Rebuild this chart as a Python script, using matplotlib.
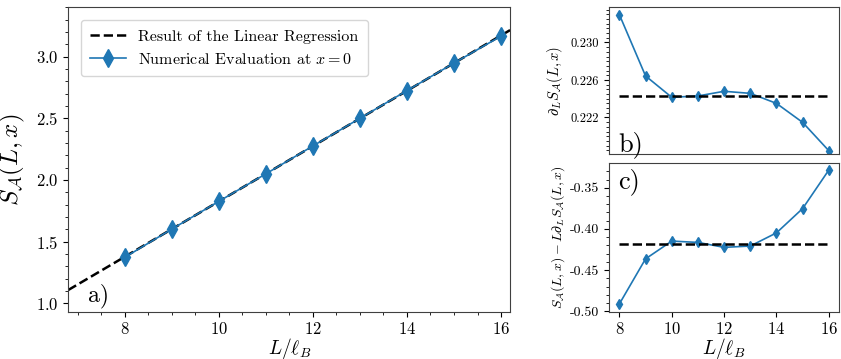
import matplotlib
matplotlib.use('Agg')
import matplotlib.pyplot as plt
import numpy as np
from matplotlib.ticker import MultipleLocator, AutoMinorLocator

plt.rcParams['font.family'] = 'serif'
plt.rcParams['font.serif'] = ['cmr10']
plt.rcParams['mathtext.fontset'] = 'cm'
plt.rcParams['axes.unicode_minus'] = False
plt.rcParams['axes.formatter.use_mathtext'] = True

# data
L = [8, 9, 10, 11, 12, 13, 14, 15, 16]
S_num = [1.372, 1.601, 1.826, 2.049, 2.275, 2.499, 2.724, 2.947, 3.166]
dS = [0.23297, 0.22643, 0.22415, 0.22429, 0.22479, 0.22457, 0.2235, 0.22147, 0.21845]
S_minus_LdS = [-0.4912, -0.4364, -0.4148, -0.4164, -0.4224, -0.4208, -0.4048, -0.3752, -0.3284]
slope = 0.22432
intercept = -0.418
L_fit = [6.8, 16.2]

blue = '#1f77b4'
spine_col = '0.25'

fig = plt.figure(figsize=(8.41, 3.59), dpi=100)
ax_a = fig.add_axes([0.081, 0.132, 0.526, 0.848])
ax_b = fig.add_axes([0.724, 0.571, 0.274, 0.41])
ax_c = fig.add_axes([0.724, 0.132, 0.274, 0.413], sharex=ax_b)

# panel a
fit_y = [slope * l + intercept for l in L_fit]
ax_a.plot(L_fit, fit_y, '--', color='black', lw=1.8, label='Result of the Linear Regression')
ax_a.plot(L, S_num, marker='d', color=blue, lw=1.2, ms=9, label='Numerical Evaluation at $x=0$')
ax_a.set_xlim(6.8, 16.2)
ax_a.set_ylim(0.933, 3.4)
ax_a.xaxis.set_major_locator(MultipleLocator(2))
ax_a.xaxis.set_minor_locator(MultipleLocator(0.5))
ax_a.yaxis.set_major_locator(MultipleLocator(0.5))
ax_a.yaxis.set_minor_locator(MultipleLocator(0.1))
ax_a.set_xlabel(r'$L/\ell_B$', fontsize=14, labelpad=-1)
ax_a.set_ylabel(r'$S_{\mathcal{A}}(L,x)$', fontsize=18, labelpad=6)
ax_a.tick_params(labelsize=12)
ax_a.legend(loc='upper left', fontsize=11.5, handlelength=2.2, borderpad=0.6,
            borderaxespad=0.8)
ax_a.text(0.045, 0.035, 'a)', transform=ax_a.transAxes, fontsize=17)

# panel b
ax_b.plot(L, dS, marker='d', color=blue, lw=1.2, ms=5)
ax_b.plot([L[0], L[-1]], [slope, slope], '--', color='black', lw=1.8)
ax_b.set_ylim(0.2181, 0.2338)
ax_b.yaxis.set_major_locator(MultipleLocator(0.004, offset=0.002))
ax_b.yaxis.set_minor_locator(AutoMinorLocator(8))
ax_b.yaxis.set_major_formatter(matplotlib.ticker.FormatStrFormatter('%.3f'))
ax_b.tick_params(labelbottom=False, bottom=False)
ax_b.tick_params(axis='y', labelsize=9)
ax_b.set_ylabel(r'$\partial_L S_{\mathcal{A}}(L,x)$', fontsize=10.5)
ax_b.text(0.04, 0.02, 'b)', transform=ax_b.transAxes, fontsize=19)

# panel c
ax_c.plot(L, S_minus_LdS, marker='d', color=blue, lw=1.2, ms=5)
ax_c.plot([L[0], L[-1]], [intercept, intercept], '--', color='black', lw=1.8)
ax_c.set_ylim(-0.5005, -0.3203)
ax_c.xaxis.set_major_locator(MultipleLocator(2))
ax_c.yaxis.set_major_locator(MultipleLocator(0.05))
ax_c.yaxis.set_minor_locator(AutoMinorLocator(5))
ax_c.yaxis.set_major_formatter(matplotlib.ticker.FormatStrFormatter('%.2f'))
ax_c.tick_params(axis='y', labelsize=10)
ax_c.tick_params(axis='x', labelsize=12)
ax_c.set_xlabel(r'$L/\ell_B$', fontsize=14, labelpad=-1)
ax_c.set_ylabel(r'$S_{\mathcal{A}}(L,x) - L\partial_L S_{\mathcal{A}}(L,x)$', fontsize=10, labelpad=2)
ax_c.text(0.04, 0.97, 'c)', transform=ax_c.transAxes, fontsize=19, va='top')

for ax in (ax_a, ax_b, ax_c):
    for sp in ax.spines.values():
        sp.set_color(spine_col)

fig.savefig('out.png', dpi=100)
